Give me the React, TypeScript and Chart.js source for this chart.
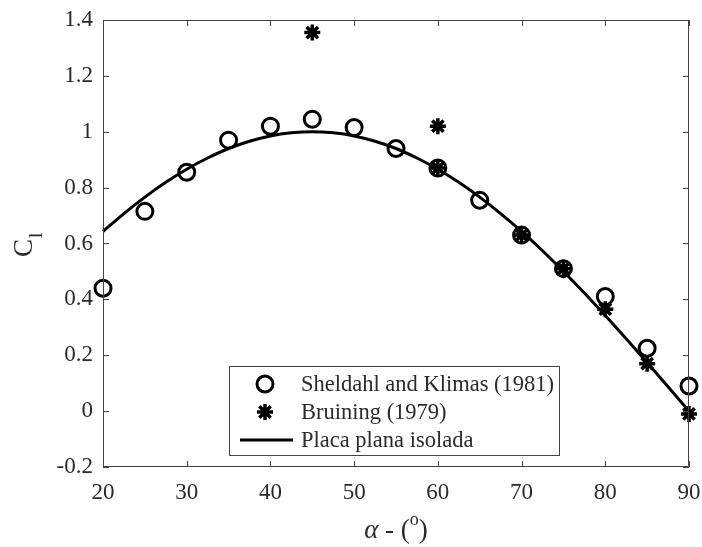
import { useEffect, useRef } from "react";
import { Chart, registerables } from "chart.js";

Chart.register(...registerables);

// Sheldahl and Klimas (1981) measurements
const SHELDAHL_ALPHA = [20, 25, 30, 35, 40, 45, 50, 55, 60, 65, 70, 75, 80, 85, 90];
const SHELDAHL_CL = [0.44, 0.715, 0.855, 0.97, 1.02, 1.045, 1.015, 0.94, 0.87, 0.755, 0.63, 0.51, 0.41, 0.225, 0.09];

// Bruining (1979) measurements
const BRUINING_ALPHA = [45, 60, 60, 70, 75, 80, 85, 90];
const BRUINING_CL = [1.355, 1.02, 0.87, 0.63, 0.51, 0.365, 0.17, -0.01];

// Isolated flat plate curve
const PLATE_ALPHA = [20, 22.5, 25, 27.5, 30, 32.5, 35, 37.5, 40, 42.5, 45, 47.5, 50, 52.5, 55, 57.5, 60, 62.5, 65, 67.5, 70, 72.5, 75, 77.5, 80, 82.5, 85, 87.5, 90];
const PLATE_CL = [0.643, 0.707, 0.766, 0.819, 0.866, 0.906, 0.94, 0.966, 0.985, 0.996, 1.0, 0.996, 0.985, 0.966, 0.94, 0.906, 0.866, 0.819, 0.766, 0.707, 0.643, 0.574, 0.5, 0.423, 0.342, 0.259, 0.174, 0.087, 0.0];

const X_TICKS = [20, 30, 40, 50, 60, 70, 80, 90];
const Y_TICKS = [-0.2, 0, 0.2, 0.4, 0.6, 0.8, 1, 1.2, 1.4];

const LEGEND_LABELS = ["Sheldahl and Klimas (1981)", "Bruining (1979)", "Placa plana isolada"];

const SERIF = '"Liberation Serif", "Times New Roman", serif';
const AXIS_COLOR = "#444444";
const TEXT_COLOR = "#2a2a2a";

const zip = (xs: number[], ys: number[]) => xs.map((x, i) => ({ x, y: ys[i] }));

// The axes box is placed by the layout padding alone
const noScalePadding = (s: any) => {
  s.paddingLeft = 0;
  s.paddingRight = 0;
  s.paddingTop = 0;
  s.paddingBottom = 0;
};

// Box around the axes with inward tick marks on all four sides
const boxPlugin = {
  id: "boxTicks",
  afterDatasetsDraw(chart: any) {
    const { ctx, chartArea: a, scales } = chart;
    const tl = 6;
    ctx.save();
    ctx.strokeStyle = AXIS_COLOR;
    ctx.lineWidth = 1;
    ctx.beginPath();
    ctx.rect(a.left + 0.5, a.top + 0.5, a.right - a.left - 1, a.bottom - a.top - 1);
    for (const v of X_TICKS) {
      const px = Math.round(scales.x.getPixelForValue(v)) + 0.5;
      ctx.moveTo(px, a.bottom);
      ctx.lineTo(px, a.bottom - tl);
      ctx.moveTo(px, a.top);
      ctx.lineTo(px, a.top + tl);
    }
    for (const v of Y_TICKS) {
      const py = Math.round(scales.y.getPixelForValue(v)) + 0.5;
      ctx.moveTo(a.left, py);
      ctx.lineTo(a.left + tl, py);
      ctx.moveTo(a.right, py);
      ctx.lineTo(a.right - tl, py);
    }
    ctx.stroke();
    ctx.restore();
  },
};

// Legend box in the lower part of the axes
const legendPlugin = {
  id: "boxLegend",
  afterDraw(chart: any) {
    const { ctx } = chart;
    const left = 229;
    const top = 366;
    const w = 330;
    const h = 89;
    const rows = [384, 412, 440];
    const markX = 265;
    ctx.save();
    ctx.fillStyle = "#ffffff";
    ctx.fillRect(left, top, w, h);
    ctx.strokeStyle = AXIS_COLOR;
    ctx.lineWidth = 1;
    ctx.strokeRect(left + 0.5, top + 0.5, w, h);

    // circle marker
    ctx.strokeStyle = "#000";
    ctx.lineWidth = 3;
    ctx.beginPath();
    ctx.arc(markX, rows[0], 8, 0, Math.PI * 2);
    ctx.stroke();

    // asterisk marker
    ctx.lineWidth = 3.5;
    ctx.beginPath();
    const r = 8;
    for (let k = 0; k < 4; k++) {
      const ang = (k * Math.PI) / 4;
      ctx.moveTo(markX - r * Math.cos(ang), rows[1] - r * Math.sin(ang));
      ctx.lineTo(markX + r * Math.cos(ang), rows[1] + r * Math.sin(ang));
    }
    ctx.stroke();

    // line sample
    ctx.lineWidth = 3;
    ctx.beginPath();
    ctx.moveTo(240, rows[2]);
    ctx.lineTo(293, rows[2]);
    ctx.stroke();

    ctx.fillStyle = TEXT_COLOR;
    ctx.font = `22.5px ${SERIF}`;
    ctx.textBaseline = "middle";
    ctx.textAlign = "left";
    LEGEND_LABELS.forEach((t, i) => ctx.fillText(t, 301, rows[i] + 1));
    ctx.restore();
  },
};

// Axis titles: C_l and alpha - (o)
const titlePlugin = {
  id: "axisTitles",
  afterDraw(chart: any) {
    const { ctx, chartArea: a } = chart;
    ctx.save();
    ctx.fillStyle = TEXT_COLOR;
    ctx.textBaseline = "alphabetic";
    ctx.textAlign = "left";

    // y title, rotated
    ctx.save();
    ctx.translate(32, 257);
    ctx.rotate(-Math.PI / 2);
    ctx.font = `27px ${SERIF}`;
    ctx.fillText("C", 0, 0);
    const cw = ctx.measureText("C").width;
    ctx.font = `19px ${SERIF}`;
    ctx.fillText("l", cw + 1, 10);
    ctx.restore();

    // x title
    const base = 538;
    const parts = [
      { t: "\u03b1", f: `italic 27px ${SERIF}`, dy: 0 },
      { t: " - (", f: `27px ${SERIF}`, dy: 0 },
      { t: "o", f: `18px ${SERIF}`, dy: -13 },
      { t: ")", f: `27px ${SERIF}`, dy: 0 },
    ];
    let total = 0;
    const widths = parts.map((p) => {
      ctx.font = p.f;
      const w = ctx.measureText(p.t).width;
      total += w;
      return w;
    });
    let x = (a.left + a.right) / 2 - total / 2;
    parts.forEach((p, i) => {
      ctx.font = p.f;
      ctx.fillText(p.t, x, base + p.dy);
      x += widths[i];
    });
    ctx.restore();
  },
};

export default function App() {
  const canvasRef = useRef<HTMLCanvasElement | null>(null);

  useEffect(() => {
    document.body.style.margin = "0";
    const canvas = canvasRef.current;
    if (!canvas) return;
    const chart = new Chart(canvas, {
      type: "scatter",
      data: {
        datasets: [
          {
            label: LEGEND_LABELS[2],
            type: "line",
            data: zip(PLATE_ALPHA, PLATE_CL),
            borderColor: "#000",
            borderWidth: 3,
            pointRadius: 0,
            cubicInterpolationMode: "monotone",
            fill: false,
            clip: false,
            order: 3,
          } as any,
          {
            label: LEGEND_LABELS[0],
            data: zip(SHELDAHL_ALPHA, SHELDAHL_CL),
            pointStyle: "circle",
            pointRadius: 8,
            borderWidth: 3,
            borderColor: "#000",
            backgroundColor: "rgba(0,0,0,0)",
            clip: false,
            order: 2,
          },
          {
            label: LEGEND_LABELS[1],
            data: zip(BRUINING_ALPHA, BRUINING_CL),
            pointStyle: "star",
            pointRadius: 8,
            borderWidth: 3.5,
            borderColor: "#000",
            backgroundColor: "#000",
            clip: false,
            order: 1,
          },
        ],
      },
      options: {
        responsive: false,
        animation: false,
        devicePixelRatio: 1,
        layout: { padding: { top: 20, right: 13, left: 0, bottom: 0 } },
        plugins: { legend: { display: false }, tooltip: { enabled: false } },
        scales: {
          x: {
            type: "linear",
            min: 20,
            max: 90,
            grid: { display: false, drawTicks: false },
            border: { display: false },
            afterBuildTicks: (s: any) => {
              s.ticks = X_TICKS.map((v) => ({ value: v }));
            },
            afterFit: (s: any) => {
              s.height = 80;
              noScalePadding(s);
            },
            ticks: {
              padding: 12,
              color: TEXT_COLOR,
              font: { family: SERIF, size: 23 },
              callback: (v: any) => String(v),
            },
          },
          y: {
            type: "linear",
            min: -0.2,
            max: 1.4,
            grid: { display: false, drawTicks: false },
            border: { display: false },
            afterBuildTicks: (s: any) => {
              s.ticks = Y_TICKS.map((v) => ({ value: v }));
            },
            afterFit: (s: any) => {
              s.width = 103;
              noScalePadding(s);
            },
            ticks: {
              padding: 10,
              color: TEXT_COLOR,
              font: { family: SERIF, size: 23 },
              callback: (v: any) => String(Math.round(Number(v) * 10) / 10),
            },
          },
        },
      },
      plugins: [boxPlugin, legendPlugin, titlePlugin],
    });
    return () => chart.destroy();
  }, []);

  return (
    <div style={{ width: 702, height: 547, background: "#fff" }}>
      <canvas ref={canvasRef} width={702} height={547} style={{ display: "block" }} />
    </div>
  );
}
